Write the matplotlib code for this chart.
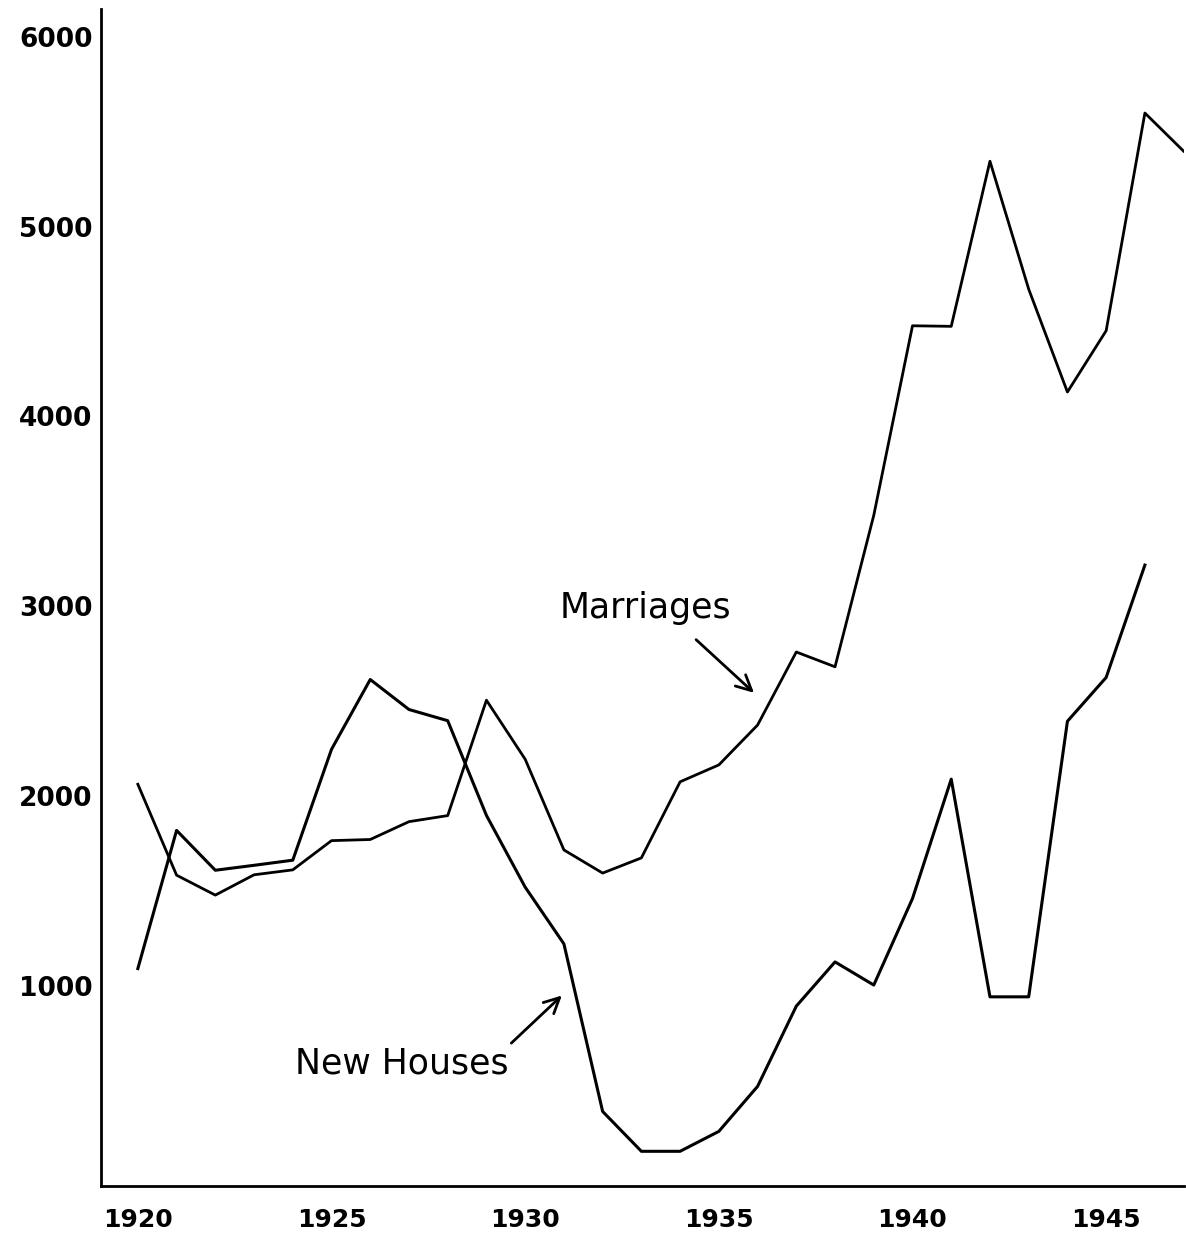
import matplotlib.pyplot as plt

# Data
years = list(range(1920, 1948))
marriages = [2062, 1583, 1478, 1585, 1611, 1765, 1771, 1865, 1897, 2505,
             2194, 1716, 1594, 1674, 2075, 2164, 2374, 2759, 2681, 3479,
             4478, 4475, 5345, 4671, 4129, 4452, 5599, 5398]
house_years = list(range(1920, 1947))
new_houses = [1091, 1819, 1609, 1635, 1662, 2246, 2614, 2456, 2397, 1898,
              1520, 1221, 338, 128, 128, 233, 470, 893, 1126, 1004,
              1460, 2089, 942, 942, 2394, 2625, 3217]
x_ticks = [1920, 1925, 1930, 1935, 1940, 1945]
y_ticks = [1000, 2000, 3000, 4000, 5000, 6000]

fig = plt.figure(figsize=(11.86, 12.37), dpi=100)
ax = fig.add_axes([0.0852, 0.0412, 0.9128, 0.9515])

ax.plot(years, marriages, color='black', lw=2.0)
ax.plot(house_years, new_houses, color='black', lw=2.2)

ax.set_xlim(1919.05, 1947.0)
ax.set_ylim(-55, 6147)

ax.spines['top'].set_visible(False)
ax.spines['right'].set_visible(False)
ax.spines['left'].set_linewidth(2)
ax.spines['bottom'].set_linewidth(2)

ax.set_xticks(x_ticks)
ax.set_xticklabels([str(t) for t in x_ticks], fontsize=18, fontweight='bold')
ax.set_yticks(y_ticks)
ax.set_yticklabels([str(t) for t in y_ticks], fontsize=19, fontweight='bold')
ax.tick_params(axis='x', length=0, pad=16)
ax.tick_params(axis='y', length=0, pad=6)

# Hand-written labels with arrows
ax.text(1930.88, 2990, "Marriages", fontsize=25, va='center', ha='left')
ax.annotate("", xy=(1935.96, 2534), xytext=(1934.36, 2834),
            arrowprops=dict(arrowstyle='->,head_length=1.1,head_width=0.55',
                            color='black', lw=2))

ax.text(1924.05, 590, "New Houses", fontsize=25, va='center', ha='left')
ax.annotate("", xy=(1931.0, 959), xytext=(1929.59, 688),
            arrowprops=dict(arrowstyle='->,head_length=1.1,head_width=0.55',
                            color='black', lw=2))

plt.savefig("out.png", dpi=100)
